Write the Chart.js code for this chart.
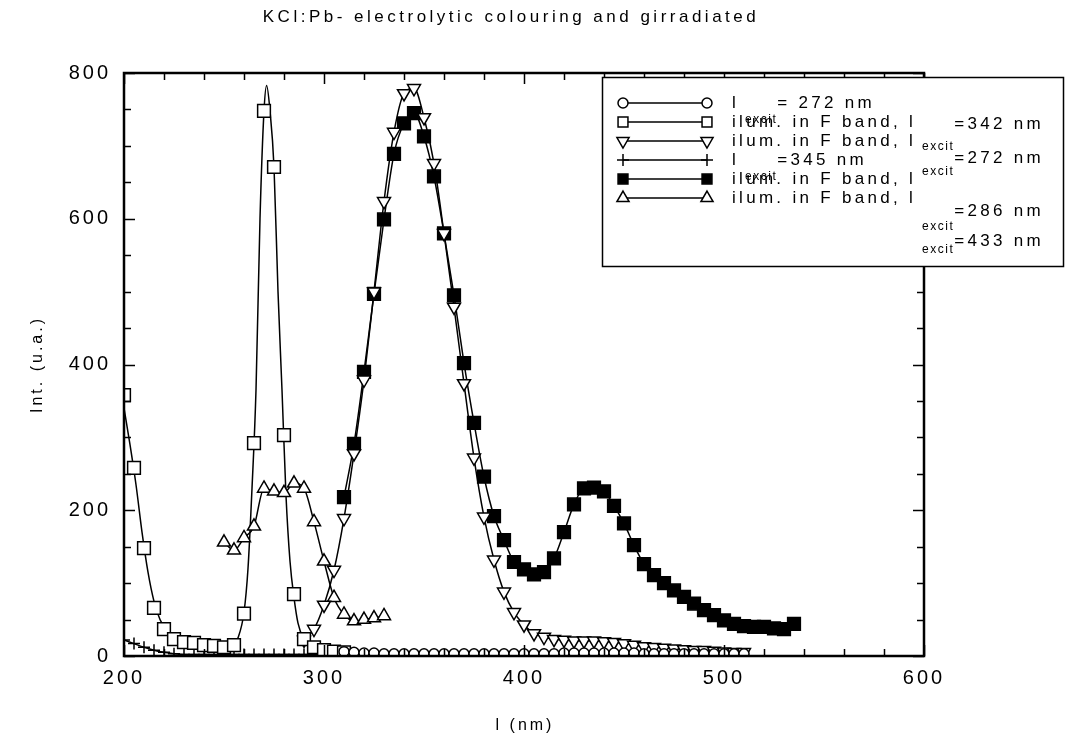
<!DOCTYPE html>
<html>
<head>
<meta charset="utf-8">
<script src="https://cdn.jsdelivr.net/npm/chart.js@4.4.0/dist/chart.umd.min.js"></script>
<style>
  body { margin: 0; background: #fff; }
  #wrap { width: 1074px; height: 740px; }
</style>
</head>
<body>
<div id="wrap"><canvas id="chart"></canvas></div>
<script>
const TITLE = 'KCl:Pb- electrolytic colouring and girradiated';
const X_TITLE = 'l (nm)';
const Y_TITLE = 'Int. (u.a.)';
const X_RANGE = [200, 600];
const Y_RANGE = [0, 800];

// l_excit = 272 nm (open circles)
const circWl = [310, 315, 320, 325, 330, 335, 340, 345, 350, 355, 360, 365, 370, 375, 380, 385, 390, 395, 400, 405,
  410, 415, 420, 425, 430, 435, 440, 445, 450, 455, 460, 465, 470, 475, 480, 485, 490, 495, 500, 505, 510];
const circInt = [6, 5, 4, 4, 3, 3, 3, 3, 3, 3, 3, 3, 3, 3, 3, 3, 3, 3, 3, 3,
  3, 3, 4, 4, 4, 4, 4, 4, 4, 4, 3, 3, 3, 3, 3, 3, 3, 3, 3, 3, 3];

// ilum. in F band, l_excit = 342 nm (open squares) + the fitted curve drawn through them
const sqWl = [200, 205, 210, 215, 220, 225, 230, 235, 240, 245, 250, 255, 260, 265, 270, 275, 280, 285, 290, 295, 300, 305, 310];
const sqInt = [358, 258, 148, 66, 37, 23, 19, 18, 15, 14, 12, 15, 58, 292, 748, 671, 303, 85, 23, 12, 8, 6, 5];
const sqFitWl = [200, 203, 206, 209, 212, 215, 218, 222, 226, 232, 240, 248, 254, 257, 260, 262, 264, 266, 268, 270,
  271.3, 273, 275, 277, 279, 281, 283, 285, 287, 290, 294, 300, 310];
const sqFitInt = [340, 290, 235, 170, 115, 75, 50, 32, 23, 18, 15, 12, 13, 25, 60, 120, 230, 365, 600, 748,
  783, 748, 671, 500, 365, 220, 130, 80, 45, 22, 10, 6, 4];

// ilum. in F band, l_excit = 272 nm (open down triangles)
const tdWl = [290, 295, 300, 305, 310, 315, 320, 325, 330, 335, 340, 345, 350, 355, 360, 365, 370, 375, 380, 385,
  390, 395, 400, 405, 410, 415, 420, 425, 430, 435, 440, 445, 450, 455, 460, 465, 470, 475, 480, 485,
  490, 495, 500, 505, 510];
const tdInt = [22, 37, 70, 118, 189, 278, 379, 500, 624, 719, 772, 779, 739, 676, 580, 479, 374, 272, 191, 132,
  88, 60, 43, 31, 26, 23, 22, 21, 21, 21, 20, 19, 17, 15, 13, 12, 11, 10, 9, 8,
  8, 7, 6, 5, 5];

// l_excit = 345 nm (plus)
const plWl = [200, 205, 210, 215, 220, 225, 230, 235, 240, 245, 250, 255, 260, 265, 270, 275, 280, 285, 290, 295, 300];
const plInt = [22, 17, 12, 8, 5, 3, 2, 2, 2, 2, 2, 2, 2, 2, 2, 2, 2, 2, 2, 2, 2];

// ilum. in F band, l_excit = 286 nm (filled squares)
const fsWl = [310, 315, 320, 325, 330, 335, 340, 345, 350, 355, 360, 365, 370, 375, 380, 385, 390, 395, 400, 405,
  410, 415, 420, 425, 430, 435, 440, 445, 450, 455, 460, 465, 470, 475, 480, 485, 490, 495, 500, 505,
  510, 515, 520, 525, 530, 535];
const fsInt = [218, 291, 390, 497, 599, 689, 731, 745, 713, 658, 580, 495, 402, 320, 246, 192, 159, 129, 119, 112,
  115, 134, 170, 208, 230, 231, 226, 206, 182, 152, 126, 111, 100, 90, 81, 72, 63, 56, 49, 44,
  41, 40, 40, 38, 37, 44];

// ilum. in F band, l_excit = 433 nm (open up triangles)
const tuWl = [250, 255, 260, 265, 270, 275, 280, 285, 290, 295, 300, 305, 310, 315, 320, 325, 330];
const tuInt = [156, 145, 162, 178, 230, 226, 224, 237, 230, 184, 130, 80, 57, 48, 50, 52, 55];

// legend text: main part, the "excit" index, then the value
const LEGEND_LABELS = [
  ['l', 'excit', '= 272 nm'],
  ['ilum. in F band, l', 'excit', '=342 nm'],
  ['ilum. in F band, l', 'excit', '=272 nm'],
  ['l', 'excit', '=345 nm'],
  ['ilum. in F band, l', 'excit', '=286 nm'],
  ['ilum. in F band, l', 'excit', '=433 nm'],
];

const pts = (xs, ys) => xs.map((x, i) => ({ x, y: ys[i] }));
const FONT = '"Liberation Sans", Arial, sans-serif';

function series(data, style, fill, radius, extra) {
  return Object.assign({
    data, pointStyle: style, pointRadius: radius, pointHoverRadius: radius,
    pointBackgroundColor: fill, pointBorderColor: '#000', pointBorderWidth: 1.5,
    borderColor: '#000', borderWidth: 1.5, showLine: true, tension: 0.3,
    cubicInterpolationMode: 'monotone', fill: false,
  }, extra || {});
}

// Frame, inward ticks, title, axis titles and the boxed legend.
const decor = {
  id: 'decor',
  beforeDraw(chart) {
    chart.ctx.letterSpacing = '3px';
  },
  afterDatasetsDraw(chart) {
    const { ctx, chartArea: a, scales: { x, y } } = chart;
    ctx.save();
    ctx.strokeStyle = '#000';
    ctx.lineWidth = 1.5;
    ctx.beginPath();
    for (let v = X_RANGE[0]; v <= X_RANGE[1]; v += 20) {
      const px = Math.round(x.getPixelForValue(v)) + 0.5;
      const len = v % 100 === 0 ? 11 : 7;
      ctx.moveTo(px, a.bottom); ctx.lineTo(px, a.bottom - len);
      ctx.moveTo(px, a.top); ctx.lineTo(px, a.top + len);
    }
    for (let v = Y_RANGE[0]; v <= Y_RANGE[1]; v += 50) {
      const py = Math.round(y.getPixelForValue(v)) + 0.5;
      const len = v % 200 === 0 ? 11 : 7;
      ctx.moveTo(a.left, py); ctx.lineTo(a.left + len, py);
      ctx.moveTo(a.right, py); ctx.lineTo(a.right - len, py);
    }
    ctx.stroke();
    ctx.lineWidth = 2.5;
    ctx.strokeRect(a.left, a.top, a.right - a.left, a.bottom - a.top);

    ctx.fillStyle = '#000';
    ctx.textAlign = 'center';
    ctx.textBaseline = 'middle';
    ctx.letterSpacing = '3.5px';
    ctx.font = '17px ' + FONT;
    ctx.fillText(TITLE, 511, 17);
    ctx.letterSpacing = '3px';
    ctx.font = '16px ' + FONT;
    ctx.fillText(X_TITLE, 525, 726);
    ctx.save();
    ctx.translate(38, (a.top + a.bottom) / 2);
    ctx.rotate(-Math.PI / 2);
    ctx.fillText(Y_TITLE, 0, 0);
    ctx.restore();
    ctx.restore();
  },
  afterDraw(chart) {
    const ctx = chart.ctx;
    const box = { l: 602, t: 77, r: 1063, b: 266 };
    ctx.save();
    ctx.fillStyle = '#fff';
    ctx.fillRect(box.l, box.t, box.r - box.l, box.b - box.t);
    ctx.strokeStyle = '#000';
    ctx.lineWidth = 1.5;
    ctx.strokeRect(box.l + 0.5, box.t + 0.5, box.r - box.l, box.b - box.t);

    const rowY = [103, 122, 141, 160, 179, 198];
    const subDy = [17, 25, 31, 17, 48, 52];
    const valDy = [0, 2, 17, 0, 32, 43];
    const legendSets = chart.data.datasets.filter(d => !d.noLegend);
    legendSets.forEach((ds, i) => {
      const yy = rowY[i];
      ctx.lineWidth = 1.5;
      ctx.strokeStyle = '#000';
      ctx.beginPath();
      ctx.moveTo(623, yy); ctx.lineTo(707, yy);
      ctx.stroke();
      ctx.fillStyle = ds.pointBackgroundColor;
      const opt = { pointStyle: ds.pointStyle, rotation: ds.pointRotation || 0, radius: Math.min(ds.pointRadius, 7), borderWidth: 1.5 };
      Chart.helpers.drawPoint(ctx, opt, 623, yy);
      Chart.helpers.drawPoint(ctx, opt, 707, yy);

      const [main, sub, val] = LEGEND_LABELS[i];
      ctx.fillStyle = '#000';
      ctx.textAlign = 'left';
      ctx.textBaseline = 'middle';
      ctx.letterSpacing = '3.3px';
      ctx.font = '17px ' + FONT;
      ctx.fillText(main, 732, yy);
      const w = ctx.measureText(main).width;
      ctx.letterSpacing = '1.5px';
      ctx.font = '12px ' + FONT;
      ctx.fillText(sub, 732 + w + 6, yy + subDy[i]);
      const ws = ctx.measureText(sub).width;
      ctx.letterSpacing = '3.3px';
      ctx.font = '17px ' + FONT;
      ctx.fillText(val, 732 + w + ws + 6, yy + valDy[i]);
    });
    ctx.restore();
  }
};

new Chart(document.getElementById('chart'), {
  type: 'scatter',
  data: {
    datasets: [
      series(pts(circWl, circInt), 'circle', '#fff', 5),
      series(pts(sqWl, sqInt), 'rect', '#fff', 9, { showLine: false }),
      series(pts(tdWl, tdInt), 'triangle', '#fff', 7.5, { pointRotation: 180 }),
      series(pts(plWl, plInt), 'cross', '#fff', 6),
      series(pts(fsWl, fsInt), 'rect', '#000', 9),
      series(pts(tuWl, tuInt), 'triangle', '#fff', 7.5),
      series(pts(sqFitWl, sqFitInt), 'circle', '#fff', 0, { noLegend: true, pointRadius: 0, pointBorderWidth: 0 }),
    ]
  },
  options: {
    responsive: true,
    maintainAspectRatio: false,
    animation: false,
    events: [],
    layout: { padding: { left: 0, right: 150, top: 73, bottom: 0 } },
    plugins: { legend: { display: false }, tooltip: { enabled: false }, title: { display: false } },
    scales: {
      x: {
        type: 'linear', min: X_RANGE[0], max: X_RANGE[1],
        grid: { display: false, drawTicks: false },
        border: { display: false },
        ticks: { stepSize: 100, padding: 10, color: '#000', font: { family: FONT, size: 20 } },
        afterFit: s => { s.height = 84; },
      },
      y: {
        type: 'linear', min: Y_RANGE[0], max: Y_RANGE[1],
        grid: { display: false, drawTicks: false },
        border: { display: false },
        ticks: { stepSize: 200, padding: 13, color: '#000', font: { family: FONT, size: 20 } },
        afterFit: s => { s.width = 124; },
      }
    }
  },
  plugins: [decor]
});
</script>
</body>
</html>
